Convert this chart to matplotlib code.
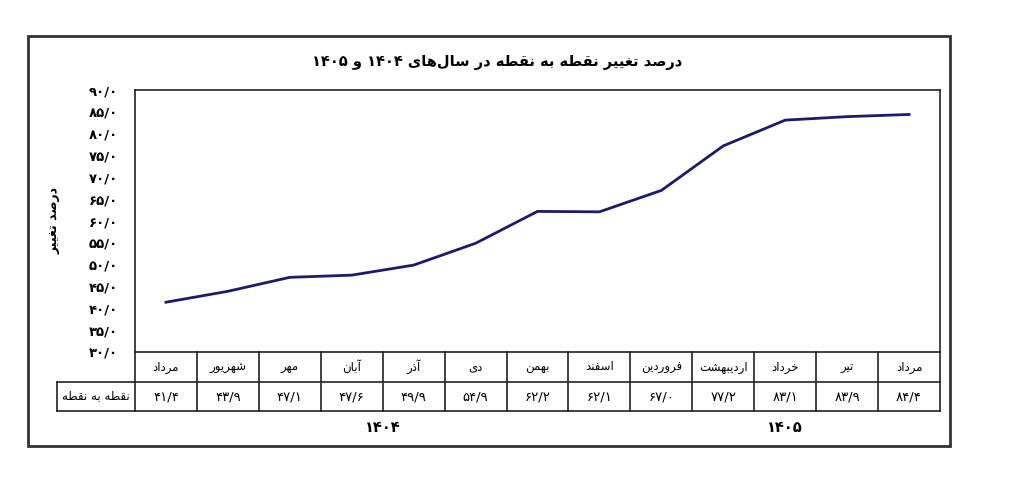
import matplotlib
matplotlib.use("Agg")
import matplotlib.pyplot as plt
import matplotlib.transforms as mtransforms
from matplotlib.patches import Rectangle

# data
months = ["مرداد", "شهریور", "مهر", "آبان", "آذر", "دی", "بهمن", "اسفند",
          "فروردین", "اردیبهشت", "خرداد", "تیر", "مرداد"]
values = [41.4, 43.9, 47.1, 47.6, 49.9, 54.9, 62.2, 62.1, 67.0, 77.2, 83.1, 83.9, 84.4]
years = ["1404", "1405"]
year_cols = [(0, 7), (8, 12)]
yticks = [30, 35, 40, 45, 50, 55, 60, 65, 70, 75, 80, 85, 90]
title = "درصد تغییر نقطه به نقطه در سال‌های ۱۴۰۴ و ۱۴۰۵"
ylabel = "درصد تغییر"
row_label = "نقطه به نقطه"

# minimal arabic shaping (matplotlib has no bidi / shaping)
# isolated, final, initial, medial
FORMS = {
    "ا": (0xFE8D, 0xFE8E, None, None),
    "آ": (0xFE81, 0xFE82, None, None),
    "ب": (0xFE8F, 0xFE90, 0xFE91, 0xFE92),
    "ت": (0xFE95, 0xFE96, 0xFE97, 0xFE98),
    "خ": (0xFEA5, 0xFEA6, 0xFEA7, 0xFEA8),
    "د": (0xFEA9, 0xFEAA, None, None),
    "ذ": (0xFEAB, 0xFEAC, None, None),
    "ر": (0xFEAD, 0xFEAE, None, None),
    "ز": (0xFEAF, 0xFEB0, None, None),
    "س": (0xFEB1, 0xFEB2, 0xFEB3, 0xFEB4),
    "ش": (0xFEB5, 0xFEB6, 0xFEB7, 0xFEB8),
    "ص": (0xFEB9, 0xFEBA, 0xFEBB, 0xFEBC),
    "ط": (0xFEC1, 0xFEC2, 0xFEC3, 0xFEC4),
    "غ": (0xFECD, 0xFECE, 0xFECF, 0xFED0),
    "ف": (0xFED1, 0xFED2, 0xFED3, 0xFED4),
    "ق": (0xFED5, 0xFED6, 0xFED7, 0xFED8),
    "ل": (0xFEDD, 0xFEDE, 0xFEDF, 0xFEE0),
    "م": (0xFEE1, 0xFEE2, 0xFEE3, 0xFEE4),
    "ن": (0xFEE5, 0xFEE6, 0xFEE7, 0xFEE8),
    "ه": (0xFEE9, 0xFEEA, 0xFEEB, 0xFEEC),
    "و": (0xFEED, 0xFEEE, None, None),
    "ی": (0xFEEF, 0xFEF0, 0xFEF3, 0xFEF4),
}


def shape(word):
    out = []
    for i, c in enumerate(word):
        if c not in FORMS:
            out.append(c)
            continue
        prev = word[i - 1] if i > 0 else None
        nxt = word[i + 1] if i + 1 < len(word) else None
        jp = prev in FORMS and FORMS[prev][2] is not None
        jn = nxt in FORMS and FORMS[c][2] is not None
        iso, fin, ini, med = FORMS[c]
        if jp and jn:
            g = med
        elif jp:
            g = fin
        elif jn:
            g = ini
        else:
            g = iso
        out.append(chr(g))
    return "".join(out).replace("\u200c", "")


def fa(text):
    words = []
    for w in text.split(" "):
        if any(ch in FORMS for ch in w):
            words.append(shape(w)[::-1])
        else:
            words.append(w)
    return " ".join(words[::-1])


def fa_num(s):
    return s.translate(str.maketrans("0123456789.", "۰۱۲۳۴۵۶۷۸۹/"))


plt.rcParams["font.family"] = ["DejaVu Sans"]

fig = plt.figure(figsize=(10.24, 4.84), dpi=100)
W, H = 1024, 484

# plot area in pixels
L, R, T, B = 135, 940, 90, 352
ax = fig.add_axes([L / W, 1 - B / H, (R - L) / W, (B - T) / H])

x = list(range(len(values)))
ax.plot(x, values, color="#1c1a6b", lw=2)
ax.set_xlim(-0.5, len(values) - 0.5)
ax.set_ylim(30, 90)
ax.set_xticks([])
ax.set_yticks(yticks)
ax.set_yticklabels([fa_num(f"{v:.1f}") for v in yticks], fontsize=9.5, fontweight="bold")
ax.tick_params(axis="y", length=0, pad=12)
for s in ax.spines.values():
    s.set_linewidth(1.2)
    s.set_color("#222222")

ax.text(-0.1, 0.5, fa(ylabel), transform=ax.transAxes, rotation=90,
        ha="center", va="center", fontsize=9, fontweight="bold")

fig.text(497 / W, 1 - 62 / H, fa(title), ha="center", va="center",
         fontsize=10.5, fontweight="bold")

# table under the plot (x in data, y in axes fraction)
trans = mtransforms.blended_transform_factory(ax.transData, ax.transAxes)
h = B - T
r1 = -30 / h
r2 = -59 / h
xl = (57 - L) / (R - L) * len(values) - 0.5
xr = len(values) - 0.5
lkw = dict(color="#222222", lw=1.2, transform=trans, clip_on=False)
ax.plot([-0.5, xr], [r1, r1], **lkw)
ax.plot([xl, xr], [r2, r2], **lkw)
ax.plot([xl, -0.5], [r1, r1], **lkw)
ax.plot([xl, xl], [r1, r2], **lkw)
for i in range(len(values) + 1):
    ax.plot([i - 0.5, i - 0.5], [0, r2], **lkw)

for i, (m, v) in enumerate(zip(months, values)):
    ax.text(i, r1 / 2, fa(m), transform=trans, ha="center", va="center", fontsize=8.5)
    ax.text(i, (r1 + r2) / 2, fa_num(f"{v:.1f}"), transform=trans,
            ha="center", va="center", fontsize=9.5)
ax.text((xl - 0.5) / 2, (r1 + r2) / 2, fa(row_label), transform=trans,
        ha="center", va="center", fontsize=8.5)

for yr, (a, b) in zip(years, year_cols):
    ax.text((a + b) / 2, -75 / h, fa_num(yr), transform=trans,
            ha="center", va="center", fontsize=10.5, fontweight="bold")

# outer frame
fig.patches.append(Rectangle((28 / W, 1 - 446 / H), (950 - 28) / W, (446 - 36) / H,
                             transform=fig.transFigure, fill=False,
                             edgecolor="#333333", lw=2))

fig.savefig("out.png", dpi=100)
